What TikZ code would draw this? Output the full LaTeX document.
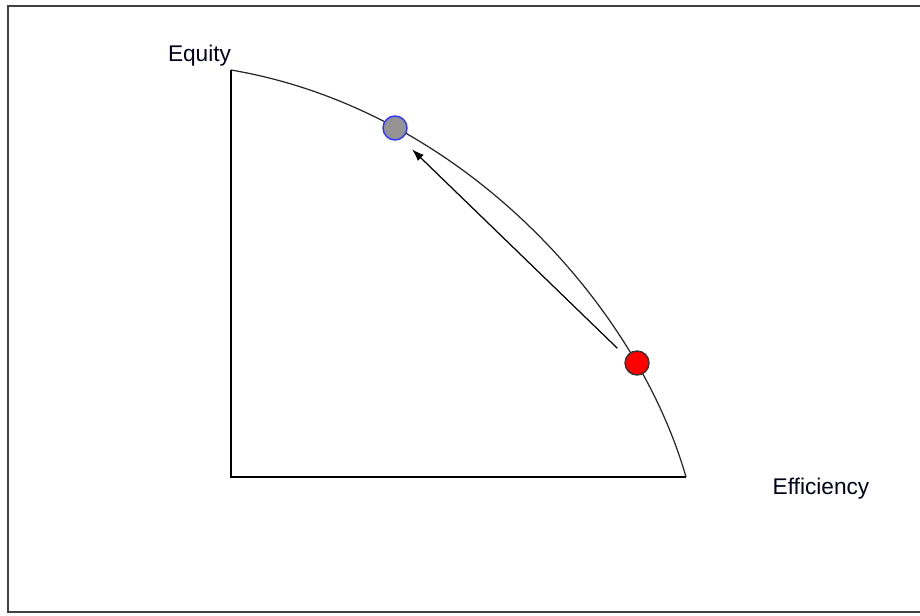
\documentclass[tikz,border=0pt]{standalone}
\usepackage{fontspec}
\setmainfont{Liberation Sans}
\usepackage{xcolor}
\usepackage{tikz}
\usetikzlibrary{arrows.meta}

\begin{document}
\begin{tikzpicture}[
    % Stili comuni per assi, frontiera, punti ed etichette.
    frame/.style={draw=black!75, line width=1.2pt},
    axis/.style={draw=black, line width=0.8pt},
    frontier/.style={draw=black!85, line width=0.7pt},
    every node/.style={font=\fontsize{12.9}{15}\selectfont, text=black!90!blue},
    dot/.style={circle, draw, line width=0.8pt, minimum size=4.8mm, inner sep=0pt},
    old point/.style={dot, fill=red, draw=black!80},
    new point/.style={dot, fill=black!42, draw=blue!80},
    move/.style={draw, line width=0.7pt, -{Latex[length=2.4mm, width=1.7mm]}}
]
% Area del disegno e cornice (il lato destro cade fuori dalla pagina).
\useasboundingbox (0, 0) rectangle (18.4, 12.3);
\draw[frame] (18.4, 12.18) -- (0.16, 12.18) -- (0.16, 0.06) -- (18.4, 0.06);

% Assi: equita' in verticale, efficienza in orizzontale.
\coordinate (O) at (4.62, 2.76);
\coordinate (Y) at (4.62, 10.9);
\coordinate (X) at (13.72, 2.76);
\draw[axis] (Y) -- (O) -- (X);

\node (equity)     at (3.99, 11.18) {Equity};
\node (efficiency) at (16.42, 2.53) {Efficiency};

% Frontiera delle possibilita'.
\draw[frontier] (Y) .. controls (9.22, 10.12) and (12.73, 6.22) .. (X);

% Punto di partenza (rosso) e punto di arrivo (grigio) sulla frontiera.
\node[old point] (red)  at (12.74, 5.04) {};
\node[new point] (gray) at (7.9, 9.74) {};

\draw[move, shorten <=0.24cm, shorten >=0.3cm] (red.150) -- (gray.-60);
\end{tikzpicture}
\end{document}
